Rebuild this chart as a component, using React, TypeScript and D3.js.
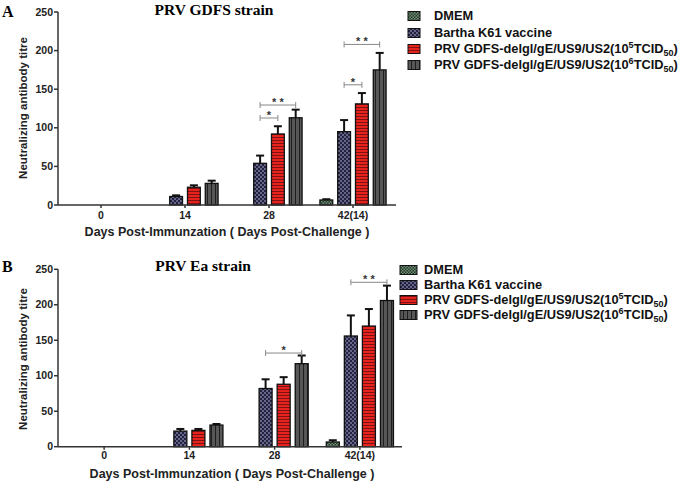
import React from "react";
import * as d3 from "d3";

const categories = ["0", "14", "28", "42(14)"];
const seriesNames = ["DMEM", "Bartha K61 vaccine", "PRV GDFS-delgl/gE/US9/US2(10^5)", "PRV GDFS-delgl/gE/US9/US2(10^6)"];
const yTicks = [0, 50, 100, 150, 200, 250];

// Panel A: PRV GDFS strain
const aDMEM = [0, 0, 0, 6.5];
const aBartha = [0, 11, 54, 95];
const aRed = [0, 23, 92, 131];
const aDark = [0, 28, 113, 175];
const aDMEMErr = [0, 0, 0, 1];
const aBarthaErr = [0, 1.5, 10, 15];
const aRedErr = [0, 2.5, 10, 14];
const aDarkErr = [0, 3.5, 10.5, 22];

// Panel B: PRV Ea strain
const bDMEM = [0, 0, 0, 6.6];
const bBartha = [0, 22, 82, 156];
const bRed = [0, 23, 88, 170];
const bDark = [0, 30.5, 117, 206];
const bDMEMErr = [0, 0, 0, 2.5];
const bBarthaErr = [0, 3, 13, 29];
const bRedErr = [0, 2, 10, 24];
const bDarkErr = [0, 1.5, 11.5, 21];

// significance brackets: category, from series, to series, height, label
const aBrackets = [
  { cat: "28", from: 1, to: 3, y: 129.5, label: "* *" },
  { cat: "28", from: 1, to: 2, y: 112.7, label: "*" },
  { cat: "42(14)", from: 1, to: 3, y: 208, label: "* *" },
  { cat: "42(14)", from: 1, to: 2, y: 155.7, label: "*" },
];
const bBrackets = [
  { cat: "28", from: 1, to: 3, y: 132, label: "*" },
  { cat: "42(14)", from: 1, to: 3, y: 231.7, label: "* *" },
];

const fills = ["url(#pDMEM)", "url(#pBartha)", "url(#pRed)", "url(#pDark)"];
const sans = "'Liberation Sans', Arial, sans-serif";
const serif = "'Liberation Serif', 'Times New Roman', serif";

function LegendText({ i }: { i: number }) {
  if (i < 2) return <>{seriesNames[i]}</>;
  const exp = i === 2 ? "5" : "6";
  return (
    <>
      PRV GDFS-delgl/gE/US9/US2(10
      <tspan fontSize="9" dy="-5">{exp}</tspan>
      <tspan dy="5">TCID</tspan>
      <tspan fontSize="9" dy="3">50</tspan>
      <tspan dy="-3">)</tspan>
    </>
  );
}

type PanelProps = {
  letter: string;
  title: string;
  titleX: number;
  titleY: number;
  letterY: number;
  axisX: number;
  axisEnd: number;
  xRange: [number, number];
  y0: number;
  yTop: number;
  yLabelY: number;
  xLabelX: number;
  xLabelY: number;
  tickLabelY: number;
  values: number[][];
  errs: number[][];
  brackets: { cat: string; from: number; to: number; y: number; label: string }[];
  legX: number;
  legW: number;
  legRows: number[];
  legTextX: number;
};

function Panel(p: PanelProps) {
  const x = d3.scaleBand<string>().domain(categories).range(p.xRange).paddingInner(0.153).paddingOuter(0.0765);
  const inner = d3
    .scaleBand<number>()
    .domain([0, 1, 2, 3])
    .range([0, x.bandwidth()])
    .paddingInner(0.28)
    .paddingOuter(0.14);
  const y = d3.scaleLinear().domain([0, 250]).range([p.y0, p.yTop]);
  const bw = inner.bandwidth();
  const cx = (cat: string, s: number) => (x(cat) as number) + (inner(s) as number) + bw / 2;

  return (
    <g>
      <text x={2} y={p.letterY} fontFamily={serif} fontWeight="bold" fontSize="16">
        {p.letter}
      </text>
      <text x={p.titleX} y={p.titleY} textAnchor="middle" fontFamily={serif} fontWeight="bold" fontSize="15.5">
        {p.title}
      </text>
      {/* bars */}
      {p.values.map((vals, s) =>
        vals.map((v, ci) => {
          if (v <= 0) return null;
          const cat = categories[ci];
          const bx = (x(cat) as number) + (inner(s) as number);
          const top = y(v);
          const eTop = y(v + p.errs[s][ci]);
          const c = bx + bw / 2;
          return (
            <g key={`${s}-${ci}`}>
              <line x1={c} x2={c} y1={top} y2={eTop} stroke="#111" strokeWidth={2} />
              <line x1={c - 4} x2={c + 4} y1={eTop} y2={eTop} stroke="#111" strokeWidth={2} />
              <rect x={bx} y={top} width={bw} height={p.y0 - top} fill={fills[s]} stroke="#111" strokeWidth={1.3} />
            </g>
          );
        })
      )}
      {/* brackets */}
      {p.brackets.map((b, i) => {
        const x1 = cx(b.cat, b.from);
        const x2 = cx(b.cat, b.to);
        const yy = y(b.y);
        return (
          <g key={i}>
            <line x1={x1} x2={x2} y1={yy} y2={yy} stroke="#888" strokeWidth={1} />
            <line x1={x1} x2={x1} y1={yy - 3} y2={yy + 3} stroke="#888" strokeWidth={1} />
            <line x1={x2} x2={x2} y1={yy - 3} y2={yy + 3} stroke="#888" strokeWidth={1} />
            <text x={(x1 + x2) / 2} y={yy + 1} textAnchor="middle" fontFamily={sans} fontWeight="bold" fontSize="11" fill="#333">
              {b.label}
            </text>
          </g>
        );
      })}
      {/* y axis */}
      <line x1={p.axisX} x2={p.axisX} y1={p.y0} y2={p.yTop} stroke="#333" strokeWidth={1.5} />
      {yTicks.map((t) => (
        <g key={t}>
          <line x1={p.axisX - 4} x2={p.axisX} y1={y(t)} y2={y(t)} stroke="#333" strokeWidth={1.5} />
          <text x={p.axisX - 5} y={y(t)} dy="0.35em" textAnchor="end" fontFamily={sans} fontWeight="bold" fontSize="10.5" fill="#222">
            {t}
          </text>
        </g>
      ))}
      {/* x axis */}
      <line x1={p.axisX} x2={p.axisEnd} y1={p.y0} y2={p.y0} stroke="#333" strokeWidth={1.5} />
      {categories.map((c) => {
        const xc = (x(c) as number) + x.bandwidth() / 2;
        return (
          <g key={c}>
            <line x1={xc} x2={xc} y1={p.y0} y2={p.y0 + 3} stroke="#333" strokeWidth={1.5} />
            <text x={xc} y={p.tickLabelY} textAnchor="middle" fontFamily={sans} fontWeight="bold" fontSize="10.5" fill="#222">
              {c}
            </text>
          </g>
        );
      })}
      <text
        transform={`translate(27,${p.yLabelY}) rotate(-90)`}
        textAnchor="middle"
        fontFamily={sans}
        fontWeight="bold"
        fontSize="11.5"
        fill="#222"
      >
        Neutralizing antibody titre
      </text>
      <text x={p.xLabelX} y={p.xLabelY} textAnchor="middle" fontFamily={sans} fontWeight="bold" fontSize="12.5" fill="#222">
        Days Post-Immunzation ( Days Post-Challenge )
      </text>
      {/* legend */}
      {p.legRows.map((ry, i) => (
        <g key={i}>
          <rect x={p.legX} y={ry - 4.5} width={p.legW} height={9} fill={fills[i]} stroke="#111" strokeWidth={1} />
          <text x={p.legTextX} y={ry} dy="0.35em" fontFamily={sans} fontWeight="bold" fontSize="12.8" fill="#111">
            <LegendText i={i} />
          </text>
        </g>
      ))}
    </g>
  );
}

export default function App() {
  return (
    <div style={{ position: "absolute", left: 0, top: 0 }}>
      <svg width={685} height={486} style={{ display: "block", background: "#fff" }}>
        <defs>
          <pattern id="pDMEM" patternUnits="userSpaceOnUse" width={3} height={3}>
            <rect width={3} height={3} fill="#263a2c" />
            <rect width={1.5} height={1.5} fill="#6f8f76" />
            <rect x={1.5} y={1.5} width={1.5} height={1.5} fill="#6f8f76" />
          </pattern>
          <pattern id="pBartha" patternUnits="userSpaceOnUse" width={4} height={4}>
            <rect width={4} height={4} fill="#22223c" />
            <rect width={2} height={2} fill="#66668c" />
            <rect x={2} y={2} width={2} height={2} fill="#66668c" />
          </pattern>
          <pattern id="pRed" patternUnits="userSpaceOnUse" width={4} height={3}>
            <rect width={4} height={3} fill="#e8231d" />
            <rect y={2} width={4} height={1} fill="#7a1414" />
          </pattern>
          <pattern id="pDark" patternUnits="userSpaceOnUse" width={4} height={4}>
            <rect width={4} height={4} fill="#575757" />
            <rect x={3} width={1} height={4} fill="#1e1e1e" />
          </pattern>
        </defs>
        <Panel
          letter="A"
          title="PRV GDFS strain"
          titleX={214}
          titleY={15}
          letterY={17}
          axisX={58}
          axisEnd={396}
          xRange={[59, 395]}
          y0={205}
          yTop={12}
          yLabelY={108}
          xLabelX={227}
          xLabelY={235.5}
          tickLabelY={219}
          values={[aDMEM, aBartha, aRed, aDark]}
          errs={[aDMEMErr, aBarthaErr, aRedErr, aDarkErr]}
          brackets={aBrackets}
          legX={408}
          legW={12}
          legRows={[16, 33, 49, 65]}
          legTextX={434}
        />
        <Panel
          letter="B"
          title="PRV Ea strain"
          titleX={203}
          titleY={271}
          letterY={272}
          axisX={58}
          axisEnd={402}
          xRange={[61.5, 402.5]}
          y0={446.7}
          yTop={269.3}
          yLabelY={359}
          xLabelX={232}
          xLabelY={478}
          tickLabelY={459}
          values={[bDMEM, bBartha, bRed, bDark]}
          errs={[bDMEMErr, bBarthaErr, bRedErr, bDarkErr]}
          brackets={bBrackets}
          legX={400}
          legW={17}
          legRows={[270, 285, 300, 315]}
          legTextX={424}
        />
      </svg>
    </div>
  );
}
